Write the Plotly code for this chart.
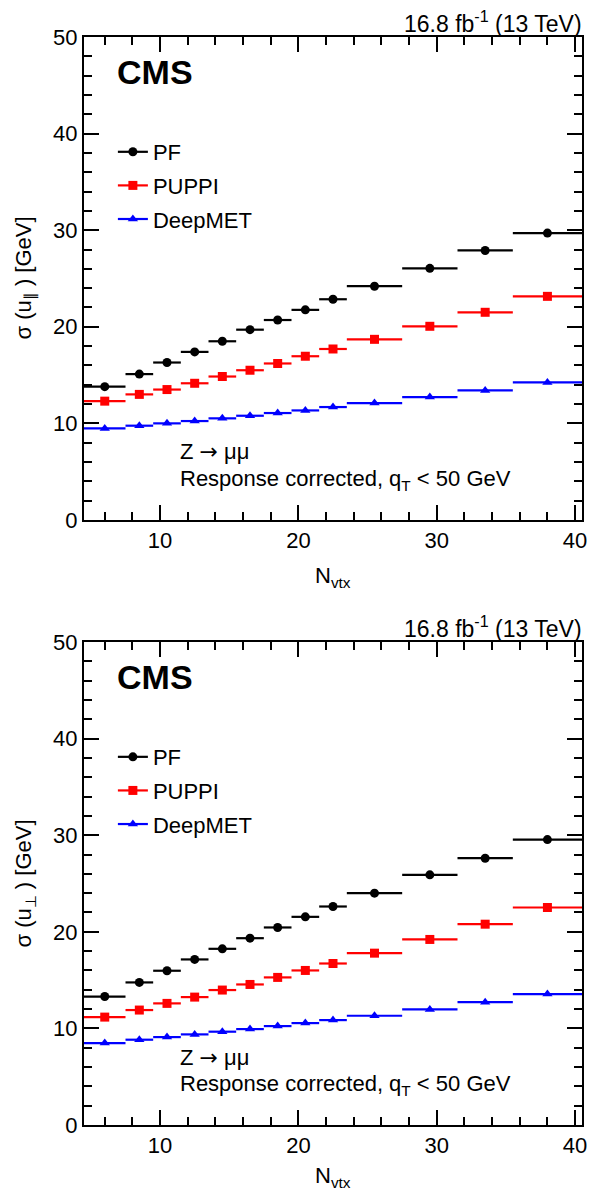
import plotly.graph_objects as go

# ---- data ----
nvtx_center = [6, 8.5, 10.5, 12.5, 14.5, 16.5, 18.5, 20.5, 22.5, 25.5, 29.5, 33.5, 38]
nvtx_halfwidth = [1.5, 1, 1, 1, 1, 1, 1, 1, 1, 2, 2, 2, 2.5]

par_pf = [13.8, 15.1, 16.3, 17.4, 18.5, 19.7, 20.7, 21.75, 22.85, 24.2, 26.05, 27.9, 29.7]
par_puppi = [12.3, 13.0, 13.5, 14.15, 14.85, 15.5, 16.2, 16.95, 17.7, 18.7, 20.05, 21.5, 23.15]
par_deepmet = [9.48, 9.76, 10.0, 10.24, 10.52, 10.79, 11.07, 11.34, 11.69, 12.1, 12.72, 13.41, 14.24]

perp_pf = [13.3, 14.76, 15.97, 17.14, 18.24, 19.34, 20.45, 21.55, 22.62, 24.0, 25.9, 27.62, 29.55]
perp_puppi = [11.17, 11.9, 12.59, 13.24, 13.97, 14.55, 15.28, 16.0, 16.72, 17.79, 19.21, 20.79, 22.52]
perp_deepmet = [8.48, 8.83, 9.1, 9.38, 9.66, 9.93, 10.24, 10.55, 10.86, 11.31, 11.97, 12.72, 13.55]

series_names = ["PF", "PUPPI", "DeepMET"]
series_colors = ["#000000", "#ff0000", "#0000ff"]
series_symbols = ["circle", "square", "triangle-up"]
series_sizes = [9, 9, 9]

x_range = [4.5, 40.5]
y_range = [0, 50]

FONT = "Liberation Sans, Arial, Helvetica, sans-serif"
FS = 22

fig = go.Figure()

panels = [
    ("x", "y", "legend", [par_pf, par_puppi, par_deepmet], "σ (u<sub>∥</sub> ) [GeV]", -57),
    ("x2", "y2", "legend2", [perp_pf, perp_puppi, perp_deepmet], "σ (u<sub>⊥</sub> ) [GeV]", -52),
]

for xa, ya, leg, vals, ytitle, _ in panels:
    for name, color, sym, size, v in zip(series_names, series_colors, series_symbols, series_sizes, vals):
        fig.add_trace(go.Scatter(
            x=nvtx_center, y=v, mode="markers", xaxis=xa, yaxis=ya,
            marker=dict(symbol=sym, size=size, color=color),
            error_x=dict(type="data", array=nvtx_halfwidth, symmetric=True,
                         width=0, thickness=2.2, color=color),
            showlegend=False, hoverinfo="skip"))
        # legend entry
        fig.add_trace(go.Scatter(
            x=[None], y=[None], mode="lines+markers", xaxis=xa, yaxis=ya,
            name=name, legend=leg, legendgroup=leg + name,
            marker=dict(symbol=sym, size=size, color=color),
            line=dict(color=color, width=2.2)))

axis_common = dict(
    showline=True, linewidth=2, linecolor="black", mirror="allticks",
    ticks="inside", ticklen=15, tickwidth=1.5, tickcolor="black",
    showgrid=False, zeroline=False,
    tickfont=dict(family=FONT, size=FS, color="black"),
    minor=dict(ticks="inside", ticklen=8, tickwidth=1.5, tickcolor="black",
               dtick=2, tick0=0, showgrid=False),
)

top_dom = [0.5561, 1.0]
bot_dom = [0.0, 0.4439]

legend_style = dict(xanchor="left", yanchor="top", bgcolor="rgba(0,0,0,0)",
                    font=dict(family=FONT, size=FS), tracegroupgap=2, itemwidth=30)

fig.update_layout(
    width=597, height=1194,
    margin=dict(l=84, r=10, t=37, b=69),
    paper_bgcolor="white", plot_bgcolor="white",
    font=dict(family=FONT, size=FS, color="black"),
    xaxis=dict(range=x_range, dtick=10, tick0=0, anchor="y", domain=[0, 1], **axis_common),
    yaxis=dict(range=y_range, dtick=10, tick0=0, anchor="x", domain=top_dom, **axis_common),
    xaxis2=dict(range=x_range, dtick=10, tick0=0, anchor="y2", domain=[0, 1], **axis_common),
    yaxis2=dict(range=y_range, dtick=10, tick0=0, anchor="x2", domain=bot_dom, **axis_common),
    legend=dict(x=0.058, y=1 - (131 - 37) / 1088, **legend_style),
    legend2=dict(x=0.058, y=bot_dom[1] - (131 - 37) / 1088, **legend_style),
    showlegend=True,
)

annotations = []
for xa, ya, leg, vals, ytitle, xtshift in panels:
    xd = xa + " domain"
    yd = ya + " domain"
    annotations += [
        dict(xref=xd, yref=yd, x=0, y=1, xanchor="left", yanchor="middle",
             xshift=31, yshift=-34.5, text="<b>CMS</b>", showarrow=False,
             font=dict(family=FONT, size=34, color="black")),
        dict(xref=xd, yref=yd, x=1, y=1, xanchor="right", yanchor="middle",
             xshift=2, yshift=15, text="16.8 fb<sup>-1</sup> (13 TeV)", showarrow=False,
             font=dict(family=FONT, size=23, color="black")),
        dict(xref=xd, yref=yd, x=0, y=0, xanchor="left", yanchor="middle",
             xshift=94, yshift=68,
             text="Z <span style=\"font-family:DejaVu Sans\">→</span> μμ",
             showarrow=False, font=dict(family=FONT, size=FS, color="black")),
        dict(xref=xd, yref=yd, x=0, y=0, xanchor="left", yanchor="middle",
             xshift=94, yshift=40, text="Response corrected, q<sub>T</sub> &lt; 50 GeV",
             showarrow=False, font=dict(family=FONT, size=FS, color="black")),
        dict(xref=xd, yref=yd, x=0.5, y=0, xanchor="center", yanchor="middle",
             yshift=xtshift, text="N<sub>vtx</sub>", showarrow=False,
             font=dict(family=FONT, size=FS, color="black")),
        dict(xref=xd, yref=yd, x=0, y=0.5, xanchor="center", yanchor="middle",
             xshift=-59, textangle=-90, text=ytitle, showarrow=False,
             font=dict(family=FONT, size=FS, color="black")),
    ]
fig.update_layout(annotations=annotations)

fig.write_html("out.html")
